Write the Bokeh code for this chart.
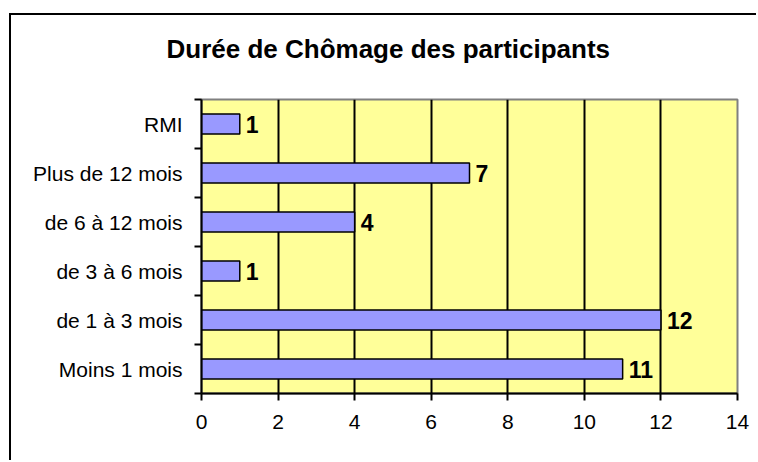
from bokeh.plotting import figure
from bokeh.models import ColumnDataSource, FixedTicker, LabelSet, Title
from bokeh.core.properties import value
from bokeh.embed import file_html
from bokeh.resources import INLINE

categories = ["Moins 1 mois", "de 1 à 3 mois", "de 3 à 6 mois", "de 6 à 12 mois", "Plus de 12 mois", "RMI"]
values = [11, 12, 1, 4, 7, 1]
x_ticks = [0, 2, 4, 6, 8, 10, 12, 14]
title_text = "Durée de Chômage des participants"

pos = [i + 0.5 for i in range(len(categories))]
src = ColumnDataSource(dict(y=pos, v=values, lbl=[str(v) for v in values]))

p = figure(width=747, height=447, output_backend="svg", toolbar_location=None, title=None,
           x_range=(0, 14), y_range=(0, len(categories)),
           min_border_left=190, min_border_right=21, min_border_top=84, min_border_bottom=69)
p.styles = {"border-left": "2px solid black", "border-top": "2px solid black",
            "margin-left": "9px", "margin-top": "13px"}

# spacer between title and plot area, then the title itself
p.add_layout(Title(text=" ", text_font_size="1px", standoff=33), "above")
p.add_layout(Title(text=title_text, align="left", offset=-35, standoff=0, vertical_align="bottom",
                   text_font="Liberation Sans", text_font_style="bold", text_font_size="26px",
                   text_color="black"), "above")

p.background_fill_color = "#FFFF99"
p.border_fill_color = "white"
p.outline_line_color = "#808080"
p.outline_line_width = 2

p.hbar(y="y", right="v", left=0, height=0.41, source=src,
       fill_color="#9999FF", line_color="black", line_width=1.5)

p.add_layout(LabelSet(x="v", y="y", text="lbl", source=src, x_offset=6, y_offset=0,
                      text_baseline="middle", text_font=value("Liberation Sans"), text_font_style="bold",
                      text_font_size="23px", text_color="black"))

# x axis
p.xaxis.ticker = FixedTicker(ticks=x_ticks)
p.xaxis.axis_line_color = "black"
p.xaxis.axis_line_width = 2
p.xaxis.major_tick_out = 7
p.xaxis.major_tick_in = 0
p.xaxis.major_tick_line_width = 2
p.xaxis.minor_tick_line_color = None
p.xaxis.major_label_text_font = "Liberation Sans"
p.xaxis.major_label_text_font_size = "21px"
p.xaxis.major_label_text_color = "black"
p.xaxis.major_label_standoff = 14

# y axis
p.yaxis.ticker = FixedTicker(ticks=pos, minor_ticks=list(range(len(categories) + 1)))
p.yaxis.major_label_overrides = {pp: c for pp, c in zip(pos, categories)}
p.yaxis.axis_line_color = "black"
p.yaxis.axis_line_width = 2
p.yaxis.major_tick_out = 0
p.yaxis.major_tick_in = 0
p.yaxis.minor_tick_out = 7
p.yaxis.minor_tick_in = 0
p.yaxis.minor_tick_line_width = 2
p.yaxis.minor_tick_line_color = "black"
p.yaxis.major_label_text_font = "Liberation Sans"
p.yaxis.major_label_text_font_size = "21px"
p.yaxis.major_label_text_color = "black"
p.yaxis.major_label_standoff = 12

p.xgrid.ticker = FixedTicker(ticks=x_ticks)
p.xgrid.grid_line_color = "black"
p.xgrid.grid_line_width = 2
p.ygrid.grid_line_color = None

open("out.html", "w").write(file_html(p, INLINE))
